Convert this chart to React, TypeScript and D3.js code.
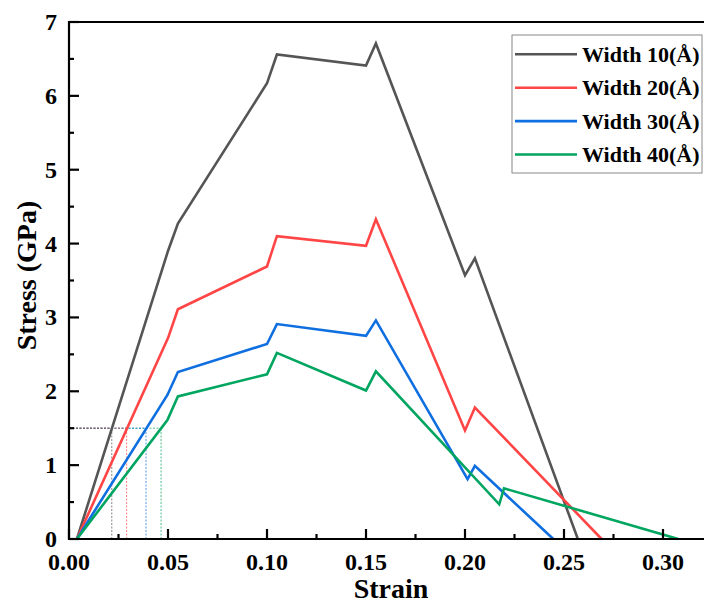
import React from "react";
import * as d3 from "d3";

const seriesNames = ["Width 10(Å)", "Width 20(Å)", "Width 30(Å)", "Width 40(Å)"];
const seriesColors = ["#555555", "#ff4545", "#0f6fe0", "#00a560"];

const strain10 = [0.004, 0.05, 0.055, 0.1, 0.105, 0.15, 0.155, 0.2, 0.205, 0.257];
const stress10 = [0, 3.9, 4.27, 6.17, 6.56, 6.41, 6.71, 3.57, 3.8, 0];

const strain20 = [0.004, 0.05, 0.055, 0.1, 0.105, 0.15, 0.155, 0.2, 0.205, 0.269];
const stress20 = [0, 2.72, 3.11, 3.69, 4.1, 3.97, 4.33, 1.47, 1.78, 0];

const strain30 = [0.004, 0.0497, 0.055, 0.1, 0.105, 0.15, 0.155, 0.2013, 0.205, 0.2446];
const stress30 = [0, 1.95, 2.26, 2.64, 2.91, 2.75, 2.96, 0.81, 0.99, 0];

const strain40 = [0.004, 0.0497, 0.055, 0.1, 0.105, 0.15, 0.155, 0.2173, 0.2197, 0.3077];
const stress40 = [0, 1.61, 1.93, 2.23, 2.52, 2.01, 2.27, 0.47, 0.686, 0];

const refStress = 1.5;
const refStrain = [0.0216, 0.0291, 0.0389, 0.0465];

const xTicks = [0, 0.05, 0.1, 0.15, 0.2, 0.25, 0.3];
const xMinorTicks = [0.025, 0.075, 0.125, 0.175, 0.225, 0.275, 0.325];
const yTicks = [0, 1, 2, 3, 4, 5, 6, 7];
const yMinorTicks = [0.5, 1.5, 2.5, 3.5, 4.5, 5.5, 6.5];

const W = 704;
const H = 606;
const left = 69;
const right = 704;
const top = 22;
const bottom = 539;
const FONT = "'Liberation Serif', 'Times New Roman', serif";

export default function App() {
  const x = d3.scaleLinear().domain([0, (right - left) / 1980]).range([left, right]);
  const y = d3.scaleLinear().domain([0, 7]).range([bottom, top]);
  const series = [
    [strain10, stress10],
    [strain20, stress20],
    [strain30, stress30],
    [strain40, stress40],
  ];
  const line = d3
    .line<[number, number]>()
    .x((d) => x(d[0]))
    .y((d) => y(d[1]));

  const legendX = 512;
  const legendY = 35;
  const rowH = 33.4;

  return (
    <svg
      width={W}
      height={H}
      style={{ position: "absolute", left: 0, top: 0, background: "#fff" }}
      fontFamily={FONT}
    >
      <rect x={0} y={0} width={W} height={H} fill="#fff" />
      {[3, 2, 1, 0].map((i) => (
        <g key={"ref" + i} stroke={seriesColors[i]} strokeWidth={1} strokeDasharray="2,1.5" opacity={0.7}>
          <line x1={x(0)} x2={x(refStrain[i])} y1={y(refStress)} y2={y(refStress)} />
          <line x1={x(refStrain[i])} x2={x(refStrain[i])} y1={y(0)} y2={y(refStress)} />
        </g>
      ))}
      {series.map((s, i) => (
        <path
          key={"s" + i}
          d={line(s[0].map((v, j) => [v, s[1][j]] as [number, number])) || ""}
          fill="none"
          stroke={seriesColors[i]}
          strokeWidth={2.6}
          strokeLinejoin="miter"
        />
      ))}
      <g stroke="#000" strokeWidth={2.2}>
        <line x1={left} x2={right} y1={bottom} y2={bottom} />
        <line x1={left} x2={left} y1={top - 1} y2={bottom + 1} />
        <line x1={left} x2={right} y1={top} y2={top} />
        {xTicks.map((t) => (
          <line key={"xt" + t} x1={x(t)} x2={x(t)} y1={bottom} y2={bottom - 10} />
        ))}
        {xMinorTicks.map((t) => (
          <line key={"xm" + t} x1={x(t)} x2={x(t)} y1={bottom} y2={bottom - 5} />
        ))}
        {yTicks.map((t) => (
          <line key={"yt" + t} x1={left} x2={left + 10} y1={y(t)} y2={y(t)} />
        ))}
        {yMinorTicks.map((t) => (
          <line key={"ym" + t} x1={left} x2={left + 5} y1={y(t)} y2={y(t)} />
        ))}
      </g>
      <g fontSize={24} fontWeight="bold" fill="#000">
        {xTicks.map((t) => (
          <text key={"xl" + t} x={x(t)} y={570} textAnchor="middle">
            {d3.format(".2f")(t)}
          </text>
        ))}
        {yTicks.map((t) => (
          <text key={"yl" + t} x={left - 12} y={y(t) + 8} textAnchor="end">
            {t}
          </text>
        ))}
      </g>
      <text x={391} y={598} textAnchor="middle" fontSize={28} fontWeight="bold">
        Strain
      </text>
      <text
        transform={`translate(36, ${(top + bottom) / 2 - 5}) rotate(-90)`}
        textAnchor="middle"
        fontSize={28}
        fontWeight="bold"
      >
        Stress (GPa)
      </text>
      <rect x={legendX} y={legendY} width={190} height={138} fill="#fff" stroke="#888" strokeWidth={1} />
      {seriesNames.map((n, i) => (
        <g key={"lg" + i}>
          <line
            x1={515}
            x2={577}
            y1={54.3 + i * rowH}
            y2={54.3 + i * rowH}
            stroke={seriesColors[i]}
            strokeWidth={2.6}
          />
          <text x={582} y={54.3 + i * rowH + 7.5} fontSize={22} fontWeight="bold">
            {n}
          </text>
        </g>
      ))}
    </svg>
  );
}
